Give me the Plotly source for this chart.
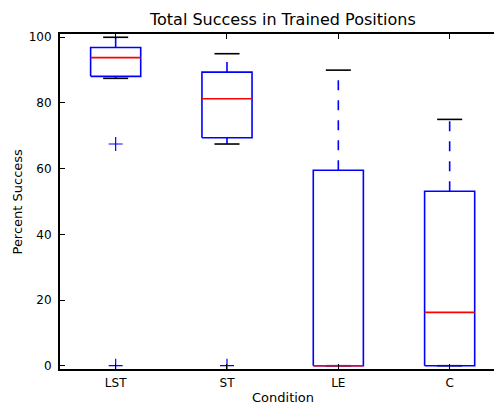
import plotly.graph_objects as go

categories = ["LST", "ST", "LE", "C"]
q1 = [88.1, 69.4, 0.0, 0.0]
medians = [93.8, 81.3, 0.0, 16.25]
q3 = [96.9, 89.4, 59.5, 53.1]
lower_whisker = [87.5, 67.5, 0.0, 0.0]
upper_whisker = [100.0, 95.0, 90.0, 75.0]
outliers = [[67.5, 0.0], [0.0], [], []]
y_ticks = [0, 20, 40, 60, 80, 100]

BLUE = "#0000ff"
RED = "#ff0000"
BW = 0.45          # box width in data units
CW = BW * 0.25     # half cap width

positions = list(range(1, len(categories) + 1))
fig = go.Figure()

# whiskers (dashed, drawn from box edge to cap)
for p, lo, hi, a, b in zip(positions, q1, q3, lower_whisker, upper_whisker):
    for y0, y1 in ((hi, b), (lo, a)):
        fig.add_trace(go.Scatter(x=[p, p], y=[y0, y1], mode="lines",
                                 line=dict(color=BLUE, width=1.6, dash="10px,10px"),
                                 hoverinfo="skip", showlegend=False))
# caps
for p, a, b in zip(positions, lower_whisker, upper_whisker):
    for v in (a, b):
        fig.add_trace(go.Scatter(x=[p - CW, p + CW], y=[v, v], mode="lines",
                                 line=dict(color="black", width=1.6),
                                 hoverinfo="skip", showlegend=False))
# boxes
for p, lo, hi in zip(positions, q1, q3):
    fig.add_trace(go.Scatter(x=[p - BW / 2, p + BW / 2, p + BW / 2, p - BW / 2, p - BW / 2],
                             y=[lo, lo, hi, hi, lo], mode="lines",
                             line=dict(color=BLUE, width=1.6),
                             hoverinfo="skip", showlegend=False))
# medians
for p, m in zip(positions, medians):
    fig.add_trace(go.Scatter(x=[p - BW / 2, p + BW / 2], y=[m, m], mode="lines",
                             line=dict(color=RED, width=1.6),
                             hoverinfo="skip", showlegend=False))
# fliers
fx, fy = [], []
for p, vals in zip(positions, outliers):
    for v in vals:
        fx.append(p)
        fy.append(v)
fig.add_trace(go.Scatter(x=fx, y=fy, mode="markers",
                         marker=dict(symbol="cross-thin", size=10,
                                     line=dict(color=BLUE, width=1.2)),
                         hoverinfo="skip", showlegend=False))

W, H = 494, 405
L, R, T, B = 60, 0, 34, 36
plot_w = W - L - R
plot_h = H - T - B
unit = 111.33
x_max = 0.5 + plot_w / unit
full_center_px = L + (4.5 - 0.5) * unit / 2

font = "DejaVu Sans"
fig.update_layout(
    width=W, height=H,
    margin=dict(l=L, r=R, t=T, b=B, pad=0),
    paper_bgcolor="white", plot_bgcolor="white",
    font=dict(family=font, size=12, color="black"),
    showlegend=False,
    xaxis=dict(range=[0.5, x_max], tickmode="array", tickvals=positions,
               ticktext=categories, ticks="inside", ticklen=5, tickwidth=1,
               tickcolor="black", showline=True, linecolor="black", linewidth=2,
               mirror="ticks", showgrid=False, zeroline=False,
               tickfont=dict(size=12), ticklabelstandoff=2),
    yaxis=dict(range=[-1, 101], tickmode="array", tickvals=y_ticks,
               ticks="inside", ticklen=5, tickwidth=1, tickcolor="black",
               showline=True, linecolor="black", linewidth=2, mirror=False,
               showgrid=False, zeroline=False, tickfont=dict(size=12),
               ticklabelstandoff=4),
    annotations=[
        dict(text="Total Success in Trained Positions", xref="paper", yref="paper",
             x=(full_center_px - L) / plot_w, y=1 + 15 / plot_h,
             xanchor="center", yanchor="middle", showarrow=False,
             font=dict(size=16, family=font)),
        dict(text="Condition", xref="paper", yref="paper",
             x=(full_center_px - L) / plot_w, y=-(397 - (H - B)) / plot_h,
             xanchor="center", yanchor="middle", showarrow=False,
             font=dict(size=13, family=font)),
        dict(text="Percent Success", xref="paper", yref="paper",
             x=(17 - L) / plot_w, y=0.5, textangle=-90,
             xanchor="center", yanchor="middle", showarrow=False,
             font=dict(size=13, family=font)),
    ],
)

fig.write_html("out.html")
